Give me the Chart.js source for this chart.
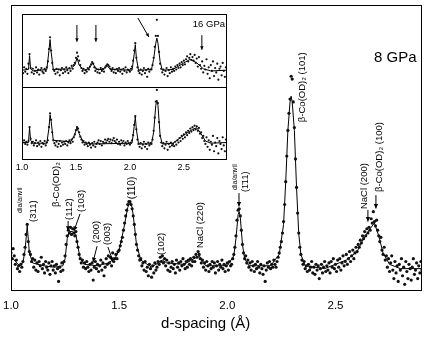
<!DOCTYPE html>
<html>
<head>
<meta charset="utf-8">
<script src="https://cdn.jsdelivr.net/npm/chart.js@4/dist/chart.umd.min.js"></script>
<style>
  body { margin: 0; background: #fff; }
  #wrap { position: relative; width: 428px; height: 337px; }
  #main { position: absolute; left: 0; top: 0; }
  #inset { position: absolute; left: 11px; top: 5px; }
</style>
</head>
<body>
<div id="wrap">
  <canvas id="main" width="428" height="337"></canvas>
  <canvas id="inset" width="222" height="170"></canvas>
</div>
<script>
// 8 GPa pattern, measured points every 0.005 A from 1.000 A
const mainStart = 1.0;
const mainStep = 0.005;
const mainCounts = [
  13, 11, 14.5, 12, 9, 10.5, 7.5, 8.5, 6.5, 9, 8, 10, 12.5, 15, 19.5, 23, 17, 13.5, 12.5, 10,
  11, 8, 10.5, 7, 9.5, 6.5, 10, 8.5, 11.5, 7.5, 9, 6, 10, 8, 7, 9.5, 5.5, 8.5, 10, 7,
  8.5, 6, 9, 7.5, 3, 8, 6.5, 9.5, 7, 10, 12, 16, 19, 21, 20, 22, 19.5, 21.5, 20, 19,
  20.5, 17, 15, 12.5, 11, 9.5, 10.5, 8, 9.5, 7.5, 10, 8, 6.5, 9, 7, 9.5, 3.5, 8, 10, 7.5,
  9, 6.5, 8.5, 10.5, 7, 9.5, 5, 8, 11, 9, 12, 9.5, 11.5, 8.5, 13, 10, 11, 12.5, 11, 13.5,
  14, 15.5, 17, 18.5, 21, 23.5, 26, 28, 30, 31, 31, 30, 28.5, 26, 23, 19.5, 16, 14, 12, 10.5,
  11, 8.5, 9.5, 7, 10, 6.5, 8, 5, 9, 7.5, 4.5, 8.5, 6, 9.5, 7, 8, 10, 9, 11.5, 10,
  12, 9.5, 11, 8.5, 10.5, 7, 9.5, 6.5, 8, 10, 7.5, 9, 6, 10.5, 8, 9.5, 7, 10, 8.5, 11,
  9, 7.5, 10, 8, 10.5, 9, 11, 8.5, 10, 11.5, 10, 12.5, 11.5, 13.5, 12.5, 11, 9.5, 10.5, 8, 9.5,
  7, 10, 8.5, 6.5, 9, 7.5, 10, 8, 9.5, 6, 8.5, 10, 7, 9, 8, 10.5, 7.5, 9, 6.5, 8.5,
  9.5, 7, 10, 8.5, 9, 11, 12.5, 15, 19, 24.5, 28, 28.5, 26, 21, 16, 13, 11, 12, 9.5, 10.5,
  8, 9.5, 7, 10, 8.5, 6.5, 9, 7.5, 10, 8, 6, 9, 7.5, 5.5, 8.5, 3, 7, 9.5, 8, 10,
  7.5, 9, 8, 10.5, 9, 8, 10, 11.5, 13, 15, 17, 20, 24, 30, 38, 47, 56, 62, 67, 75,
  74, 66, 57, 46, 36, 27, 20, 15, 12.5, 10.5, 9, 10, 7.5, 8.5, 6.5, 9, 7, 8, 10, 6,
  8, 5.5, 9, 7, 8.5, 4, 7.5, 9, 6, 8, 10, 6.5, 8.5, 7, 9.5, 6, 10, 8, 11, 7.5,
  9, 6.5, 10.5, 8, 11, 7, 9.5, 12, 8.5, 10, 12.5, 9, 11, 13.5, 10, 12, 14, 11, 13, 15,
  13.5, 16, 15, 17.5, 16.5, 19, 18, 20.5, 19, 21.5, 20, 22, 21, 25, 23.5, 27.5, 24, 22.5, 24.5, 21,
  19, 17, 18.5, 14, 12.5, 15, 10.5, 12, 8, 11, 6.5, 9.5, 12, 7, 4, 10, 6, 8.5, 3, 9,
  7, 11, 5, 8, 2, 10, 6.5, 4, 9, 7.5, 3.5, 8, 11, 5.5, 7, 9.5, 4, 8.5, 6, 10,
  7
];

// fitted profile, 8 GPa
const mainFitD = [1.00, 1.02, 1.04, 1.055, 1.065, 1.075, 1.085, 1.10, 1.15, 1.20, 1.24, 1.25, 1.26, 1.27, 1.285, 1.30, 1.31, 1.32, 1.34, 1.40,
  1.45, 1.48, 1.50, 1.52, 1.54, 1.55, 1.56, 1.57, 1.58, 1.60, 1.65, 1.70, 1.72, 1.80, 1.87, 1.90, 2.00, 2.03, 2.04, 2.05,
  2.055, 2.06, 2.07, 2.08, 2.10, 2.20, 2.24, 2.26, 2.27, 2.28, 2.29, 2.295, 2.30, 2.31, 2.32, 2.33, 2.34, 2.36, 2.45, 2.55,
  2.60, 2.63, 2.66, 2.68, 2.70, 2.72, 2.75, 2.80, 2.90];
const mainFitI = [12, 10, 8.5, 9.5, 14, 22.5, 13, 9.5, 8.5, 8, 8.5, 11, 18, 20.5, 20.5, 19.5, 15, 11, 9, 8.5,
  9.5, 11, 14, 21, 29, 31, 29, 23, 16, 10.5, 8, 10.5, 9.5, 9, 12, 8.5, 8.5, 12, 18, 26.5,
  27.5, 25.5, 16, 11, 8.5, 8.5, 12.5, 23, 38, 56, 66, 68, 66, 56, 36, 20, 12.5, 8.5, 7.5, 10.5,
  13.5, 18, 21.5, 23.5, 19, 13, 9, 7.5, 7.5];

// inset patterns, points every 0.01 A from 1.00 A
const insetStart = 1.0;
const insetStep = 0.01;
const inset16 = [
  24, 19, 27, 21, 25, 18, 32, 45, 26, 20,
  25, 18, 22, 27, 20, 24, 17, 23, 26, 21,
  19, 25, 22, 27, 35, 52, 68, 50, 33, 24,
  22, 18, 25, 20, 24, 16, 23, 26, 19, 24,
  21, 27, 23, 19, 26, 22, 29, 25, 30, 33,
  40, 47, 42, 36, 30, 26, 22, 25, 19, 23,
  21, 26, 24, 28, 31, 34, 32, 27, 22, 25,
  20, 24, 19, 26, 22, 25, 21, 27, 29, 31,
  30, 28, 25, 22, 26, 20, 24, 19, 25, 22,
  26, 21, 24, 18, 25, 22, 27, 20, 24, 23,
  21, 25, 28, 36, 50, 60, 40, 27, 22, 19,
  24, 17, 22, 26, 19, 23, 14, 25, 21, 24,
  24, 30, 40, 55, 70, 92, 70, 48, 32, 25,
  20, 24, 17, 22, 26, 15, 23, 19, 27, 21,
  25, 22, 28, 24, 30, 26, 32, 27, 34, 30,
  36, 31, 38, 42, 35, 40, 45, 37, 41, 36,
  44, 33, 39, 28, 41, 30, 25, 35, 20, 29,
  24, 38, 18, 27, 12, 30, 22, 35, 15, 26,
  20, 32, 10, 25, 28, 16, 33, 22, 14, 27,
  23
];
const inset8 = [
  28, 24, 27, 22, 25, 21, 26, 45, 29, 23,
  25, 20, 23, 27, 19, 24, 21, 26, 18, 23,
  22, 26, 20, 24, 27, 45, 64, 55, 38, 27,
  23, 20, 25, 18, 22, 26, 19, 24, 21, 25,
  22, 26, 20, 24, 27, 23, 28, 25, 31, 35,
  41, 45, 43, 38, 32, 28, 24, 26, 21, 24,
  22, 19, 24, 21, 17, 23, 20, 25, 18, 22,
  24, 27, 22, 26, 20, 25, 23, 28, 24, 27,
  29, 25, 28, 23, 27, 30, 26, 24, 28, 22,
  25, 21, 27, 23, 26, 20, 24, 22, 26, 23,
  21, 24, 27, 34, 48, 60, 42, 28, 22, 18,
  23, 16, 21, 25, 18, 22, 15, 24, 20, 23,
  22, 28, 40, 58, 80, 96, 78, 52, 33, 24,
  19, 23, 16, 21, 25, 14, 22, 18, 24, 20,
  22, 19, 25, 21, 27, 24, 30, 26, 33, 29,
  35, 31, 38, 34, 40, 37, 43, 39, 45, 41,
  47, 42, 46, 40, 44, 36, 38, 30, 33, 26,
  22, 31, 18, 27, 14, 25, 21, 33, 12, 24,
  19, 30, 9, 26, 22, 15, 31, 20, 12, 28,
  22
];
const fit16D = [1.00, 1.06, 1.07, 1.08, 1.10, 1.23, 1.25, 1.26, 1.27, 1.29, 1.45, 1.49, 1.51, 1.53, 1.57, 1.62, 1.655, 1.69, 1.76, 1.79,
  1.82, 2.02, 2.04, 2.05, 2.06, 2.08, 2.20, 2.22, 2.24, 2.25, 2.26, 2.28, 2.30, 2.40, 2.50, 2.56, 2.62, 2.68, 2.75, 2.90];
const fit16I = [23, 24, 43, 25, 22, 24, 50, 65, 48, 24, 25, 30, 40, 30, 23, 25, 33, 24, 24, 29,
  24, 23, 45, 58, 40, 23, 24, 38, 60, 67, 60, 35, 23, 24, 33, 38, 33, 25, 22, 23];
const fit8D = [1.00, 1.06, 1.07, 1.08, 1.10, 1.23, 1.25, 1.26, 1.27, 1.29, 1.45, 1.48, 1.51, 1.53, 1.57, 1.65, 2.02, 2.04, 2.05, 2.06,
  2.08, 2.20, 2.22, 2.24, 2.25, 2.26, 2.28, 2.30, 2.40, 2.50, 2.58, 2.62, 2.66, 2.70, 2.75, 2.90];
const fit8I = [24, 24, 44, 27, 23, 23, 44, 62, 53, 27, 25, 32, 44, 36, 24, 22, 23, 46, 59, 42,
  22, 22, 38, 75, 82, 75, 34, 22, 23, 34, 42, 44, 36, 26, 23, 24];

const xTicks = [1.0, 1.5, 2.0, 2.5];

const FONT = "'Liberation Sans', Arial, sans-serif";

function toPoints(start, step, vals) {
  return vals.map((v, i) => ({ x: +(start + i * step).toFixed(3), y: v }));
}
function pairPoints(ds, is) {
  return ds.map((d, i) => ({ x: d, y: is[i] }));
}

function drawArrow(ctx, x1, y1, x2, y2, head) {
  ctx.beginPath();
  ctx.moveTo(x1, y1);
  ctx.lineTo(x2, y2);
  ctx.stroke();
  const a = Math.atan2(y2 - y1, x2 - x1);
  ctx.beginPath();
  ctx.moveTo(x2, y2);
  ctx.lineTo(x2 - head * Math.cos(a - 0.45), y2 - head * Math.sin(a - 0.45));
  ctx.lineTo(x2 - head * Math.cos(a + 0.45), y2 - head * Math.sin(a + 0.45));
  ctx.closePath();
  ctx.fill();
}

// peak labels, rotated, anchored at the bottom of the text (d-spacing, intensity)
const mainLabels = [
  { text: 'dia/anvil', d: 1.042, i: 27.0, size: 7 },
  { text: '(311)', d: 1.102, i: 23.9, size: 9.5 },
  { text: '\u03b2-Co(OD)\u2082', d: 1.208, i: 29.1, size: 9.5 },
  { text: '(112)', d: 1.268, i: 24.6, size: 9.5 },
  { text: '(103)', d: 1.324, i: 27.4, size: 9.5 },
  { text: '(200)', d: 1.393, i: 16.5, size: 9.5 },
  { text: '(003)', d: 1.444, i: 15.8, size: 9.5 },
  { text: '(110)', d: 1.559, i: 31.8, size: 10 },
  { text: '(102)', d: 1.693, i: 12.3, size: 9.5 },
  { text: 'NaCl (220)', d: 1.874, i: 14.7, size: 9.5 },
  { text: 'dia/anvil', d: 2.036, i: 35.1, size: 7 },
  { text: '(1\u030411)', d: 2.086, i: 34.4, size: 9 },
  { text: '\u03b2-Co(OD)\u2082 (101)', d: 2.345, i: 58.9, size: 9.5 },
  { text: 'NaCl (200)', d: 2.632, i: 28.4, size: 9.5 },
  { text: '\u03b2-Co(OD)\u2082 (100)', d: 2.701, i: 34.4, size: 9.5 }
];
const mainArrows = [
  [1.264, 24.2, 1.264, 20.8],
  [1.319, 26.7, 1.291, 20.7],
  [1.398, 15.4, 1.379, 9.8],
  [1.448, 15.1, 1.472, 9.8],
  [2.054, 34.0, 2.054, 29.3],
  [2.650, 28.1, 2.650, 24.0],
  [2.687, 33.3, 2.687, 28.6]
];

const mainDecor = {
  id: 'mainDecor',
  afterDatasetsDraw(chart) {
    const { ctx, chartArea: ca, scales: { x, y } } = chart;
    ctx.save();
    ctx.strokeStyle = '#000';
    ctx.fillStyle = '#000';
    ctx.lineWidth = 1;
    ctx.strokeRect(ca.left + 0.5, ca.top + 0.5, ca.right - ca.left - 1, ca.bottom - ca.top);
    mainLabels.forEach(l => {
      ctx.save();
      ctx.translate(x.getPixelForValue(l.d), y.getPixelForValue(l.i));
      ctx.rotate(-Math.PI / 2);
      ctx.font = l.size + 'px ' + FONT;
      ctx.textAlign = 'left';
      ctx.textBaseline = 'middle';
      ctx.fillText(l.text, 0, 0);
      ctx.restore();
    });
    mainArrows.forEach(a => {
      drawArrow(ctx, x.getPixelForValue(a[0]), y.getPixelForValue(a[1]),
        x.getPixelForValue(a[2]), y.getPixelForValue(a[3]), 5);
    });
    ctx.font = '15px ' + FONT;
    ctx.textAlign = 'left';
    ctx.textBaseline = 'alphabetic';
    ctx.fillText('8 GPa', x.getPixelForValue(2.678), y.getPixelForValue(80));
    // axis title sits a little left of centre in the original
    ctx.textAlign = 'center';
    ctx.textBaseline = 'middle';
    ctx.fillText('d-spacing (\u00c5)', x.getPixelForValue(1.9), 324);
    ctx.restore();
  }
};

new Chart(document.getElementById('main'), {
  type: 'scatter',
  data: {
    datasets: [
      {
        label: 'measured',
        data: toPoints(mainStart, mainStep, mainCounts),
        pointRadius: 1.6,
        pointBorderWidth: 0,
        pointBackgroundColor: '#111',
        showLine: false
      },
      {
        label: 'fit',
        data: pairPoints(mainFitD, mainFitI),
        showLine: true,
        pointRadius: 0,
        borderColor: '#000',
        borderWidth: 1,
        tension: 0
      }
    ]
  },
  options: {
    responsive: false,
    devicePixelRatio: 1,
    animation: false,
    layout: { padding: { left: 11, right: 6, top: 5, bottom: 0 } },
    plugins: { legend: { display: false }, tooltip: { enabled: false } },
    scales: {
      x: {
        type: 'linear',
        min: 1.0,
        max: 2.9,
        afterBuildTicks: s => { s.ticks = xTicks.map(v => ({ value: v })); },
        afterFit: s => { s.height = 47; },
        // tick length (not drawn) pushes the labels down without widening the side padding
        grid: { display: false, drawTicks: true, tickLength: 9 },
        border: { display: false },
        ticks: {
          color: '#000',
          padding: 0,
          maxRotation: 0,
          font: { family: FONT, size: 11.5 },
          callback: v => v.toFixed(1)
        }
      },
      y: { type: 'linear', min: 0, max: 100, display: false }
    }
  },
  plugins: [mainDecor]
});

// inset annotations in the 16 GPa panel
const insetArrows = [
  [1.509, 85, 1.509, 62],
  [1.685, 85, 1.685, 62],
  [2.074, 94.5, 2.176, 68.5],
  [2.667, 71, 2.667, 51]
];

const insetDecor = {
  id: 'insetDecor',
  afterDatasetsDraw(chart) {
    const { ctx, chartArea: ca, scales: { x, yTop } } = chart;
    ctx.save();
    ctx.strokeStyle = '#000';
    ctx.fillStyle = '#000';
    ctx.lineWidth = 1;
    ctx.strokeRect(ca.left + 0.5, ca.top + 0.5, ca.right - ca.left - 1, ca.bottom - ca.top - 1);
    const mid = Math.round(yTop.bottom) + 0.5;
    ctx.beginPath();
    ctx.moveTo(ca.left, mid);
    ctx.lineTo(ca.right, mid);
    ctx.stroke();
    insetArrows.forEach(a => {
      drawArrow(ctx, x.getPixelForValue(a[0]), yTop.getPixelForValue(a[1]),
        x.getPixelForValue(a[2]), yTop.getPixelForValue(a[3]), 4);
    });
    ctx.font = '9.5px ' + FONT;
    ctx.textAlign = 'left';
    ctx.textBaseline = 'alphabetic';
    ctx.fillText('16 GPa', x.getPixelForValue(2.583), yTop.getPixelForValue(82));
    ctx.restore();
  }
};

const panelAxis = {
  type: 'linear',
  min: 0,
  max: 100,
  stack: 'panels',
  stackWeight: 1,
  position: 'left',
  afterFit: s => { s.width = 0; },
  ticks: { display: false },
  grid: { display: false, drawTicks: false },
  border: { display: false }
};

new Chart(document.getElementById('inset'), {
  type: 'scatter',
  data: {
    datasets: [
      { data: toPoints(insetStart, insetStep, inset16), yAxisID: 'yTop', pointRadius: 1.1, pointBorderWidth: 0, pointBackgroundColor: '#111', showLine: false },
      { data: pairPoints(fit16D, fit16I), yAxisID: 'yTop', showLine: true, pointRadius: 0, borderColor: '#000', borderWidth: 1 },
      { data: toPoints(insetStart, insetStep, inset8), yAxisID: 'yBot', pointRadius: 1.1, pointBorderWidth: 0, pointBackgroundColor: '#111', showLine: false },
      { data: pairPoints(fit8D, fit8I), yAxisID: 'yBot', showLine: true, pointRadius: 0, borderColor: '#000', borderWidth: 1 }
    ]
  },
  options: {
    responsive: false,
    devicePixelRatio: 1,
    animation: false,
    layout: { padding: { left: 11, right: 6, top: 9, bottom: 0 } },
    plugins: { legend: { display: false }, tooltip: { enabled: false } },
    scales: {
      x: {
        type: 'linear',
        min: 1.0,
        max: 2.9,
        afterBuildTicks: s => { s.ticks = xTicks.map(v => ({ value: v })); },
        afterFit: s => { s.height = 15; },
        grid: { display: false, drawTicks: true, tickLength: 2 },
        border: { display: false },
        ticks: {
          color: '#000',
          padding: 0,
          maxRotation: 0,
          font: { family: FONT, size: 9 },
          callback: v => v.toFixed(1)
        }
      },
      // in a stack the later scale is placed on top
      yBot: Object.assign({}, panelAxis),
      yTop: Object.assign({}, panelAxis)
    }
  },
  plugins: [insetDecor]
});
</script>
</body>
</html>
